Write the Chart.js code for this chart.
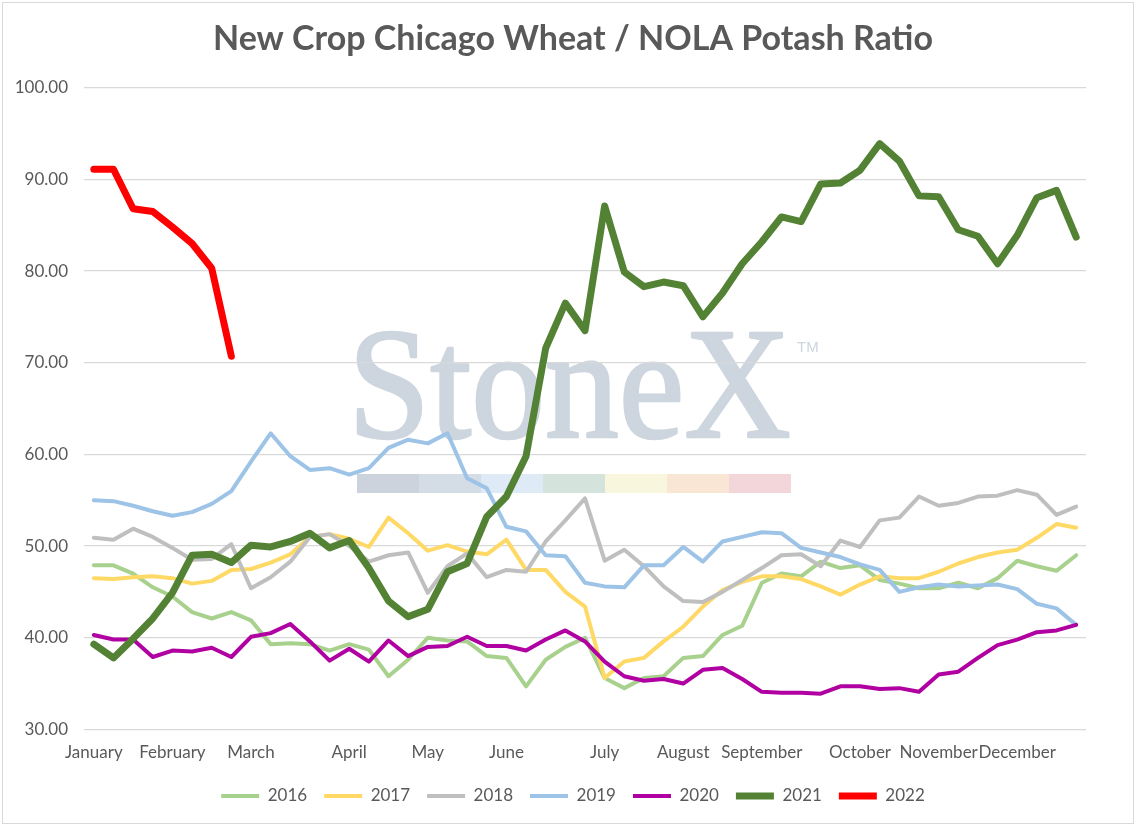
<!DOCTYPE html>
<html><head><meta charset="utf-8">
<script src="https://cdn.jsdelivr.net/npm/chart.js@4.4.1/dist/chart.umd.min.js"></script>
<style>html,body{margin:0;padding:0;background:#fff;overflow:hidden}canvas{display:block}</style>
</head><body>
<canvas id="c" width="1138" height="826"></canvas>
<script>
// ---- data ----
const titleText = 'New Crop Chicago Wheat / NOLA Potash Ratio';
const monthNames = ['January','February','March','April','May','June','July','August','September','October','November','December'];
const monthStartWeek = [0,4,8,13,17,21,26,30,34,39,43,47];
const weekCount = 51;
const seriesNames = ['2016','2017','2018','2019','2020','2021','2022'];
const y2016 = [47.9,47.9,47.0,45.5,44.5,42.8,42.1,42.8,41.9,39.3,39.4,39.3,38.6,39.3,38.7,35.8,37.6,40.0,39.7,39.6,38.0,37.8,34.7,37.6,39.0,40.0,35.6,34.5,35.6,35.8,37.8,38.0,40.3,41.3,46.0,47.0,46.7,48.3,47.6,47.9,46.3,45.9,45.4,45.4,46.0,45.4,46.5,48.4,47.8,47.3,49.0];
const y2017 = [46.5,46.4,46.6,46.7,46.5,45.9,46.2,47.4,47.5,48.2,49.1,51.0,51.3,50.8,49.9,53.1,51.4,49.5,50.1,49.4,49.1,50.7,47.4,47.4,45.0,43.4,35.6,37.4,37.8,39.6,41.2,43.4,45.2,46.1,46.7,46.7,46.4,45.6,44.7,45.8,46.7,46.5,46.5,47.2,48.1,48.8,49.3,49.6,50.9,52.4,52.0];
const y2018 = [50.9,50.7,51.9,51.0,49.8,48.5,48.6,50.2,45.4,46.6,48.3,51.0,51.3,50.0,48.3,49.0,49.3,44.9,47.8,49.2,46.6,47.4,47.2,50.5,52.8,55.2,48.4,49.6,47.8,45.6,44.0,43.9,45.0,46.3,47.6,49.0,49.1,47.8,50.6,49.9,52.8,53.1,55.4,54.4,54.7,55.4,55.5,56.1,55.6,53.4,54.3];
const y2019 = [55.0,54.9,54.4,53.8,53.3,53.7,54.6,56.0,59.2,62.3,59.8,58.3,58.5,57.8,58.5,60.7,61.6,61.2,62.3,57.4,56.3,52.1,51.6,49.0,48.9,46.0,45.6,45.5,47.9,47.9,49.9,48.3,50.5,51.0,51.5,51.4,49.8,49.3,48.8,48.0,47.4,45.0,45.5,45.8,45.6,45.7,45.8,45.3,43.7,43.2,41.4];
const y2020 = [40.3,39.8,39.8,37.9,38.6,38.5,38.9,37.9,40.1,40.5,41.5,39.6,37.5,38.8,37.4,39.7,38.0,39.0,39.1,40.1,39.1,39.1,38.6,39.8,40.8,39.6,37.4,35.8,35.3,35.5,35.0,36.5,36.7,35.5,34.1,34.0,34.0,33.9,34.7,34.7,34.4,34.5,34.1,36.0,36.3,37.8,39.2,39.8,40.6,40.8,41.4];
const y2021 = [39.3,37.8,39.9,42.1,44.9,49.0,49.1,48.2,50.1,49.9,50.5,51.4,49.8,50.6,47.6,44.0,42.3,43.1,47.2,48.1,53.2,55.4,59.8,71.6,76.5,73.5,87.1,79.9,78.3,78.8,78.4,75.0,77.6,80.8,83.2,85.9,85.4,89.5,89.6,91.0,93.9,92.0,88.2,88.1,84.5,83.8,80.8,83.9,88.0,88.8,83.7];
const y2022 = [91.1,91.1,86.8,86.5,84.8,83.0,80.3,70.7];
const yMin = 30, yMax = 100, yStep = 10;

// ---- build ----
const weekLabels = Array.from({length: weekCount}, () => '');
monthStartWeek.forEach((w, k) => { weekLabels[w] = monthNames[k]; });

const seriesValues = [y2016, y2017, y2018, y2019, y2020, y2021, y2022];
const seriesColors = ['#a9d18e','#ffd966','#bfbfbf','#9dc3e6','#b000a2','#548235','#ff0000'];
const seriesWidths = [4, 4, 4, 4, 4, 7, 7];

const FONT = 'Lato';
const GREY = '#595959';

// title size to match the reference width
const mc = document.createElement('canvas').getContext('2d');
mc.font = 'bold 100px ' + FONT;
const titleSize = Math.round(100 * 721 / mc.measureText(titleText).width * 10) / 10;
const titleLH = 1.2;
const titlePadTop = 39 - titleSize * titleLH / 2;
const titlePadBottom = 87.7 - titlePadTop - titleSize * titleLH;

const datasets = seriesNames.map((name, i) => ({
  label: name,
  data: seriesValues[i],
  borderColor: seriesColors[i],
  backgroundColor: seriesColors[i],
  borderWidth: seriesWidths[i],
  borderCapStyle: 'round',
  borderJoinStyle: 'round',
  pointRadius: 0,
  pointHoverRadius: 0,
  pointStyle: 'line',
  tension: 0,
  fill: false,
  order: seriesNames.length - i
}));

const decorPlugin = {
  id: 'decor',
  beforeDraw(chart) {
    const ctx = chart.ctx;
    const dpr = chart.currentDevicePixelRatio;
    ctx.save();
    // watermark text
    const wm = 'rgb(205,213,222)';
    ctx.fillStyle = wm;
    ctx.strokeStyle = wm;
    ctx.font = '158px "Liberation Serif"';
    ctx.textBaseline = 'alphabetic';
    const w = ctx.measureText('StoneX').width;
    ctx.translate(348, 437);
    ctx.scale(443 / w, 1);
    ctx.lineWidth = 2.6;
    ctx.lineJoin = 'round';
    ctx.fillText('StoneX', 0, 0);
    ctx.strokeText('StoneX', 0, 0);
    ctx.setTransform(dpr, 0, 0, dpr, 0, 0);
    ctx.font = '15px "Liberation Sans"';
    ctx.fillText('TM', 797, 352);
    // colour bar
    const barColors = ['#ccd3dd','#d4dce6','#deeaf5','#d4e4dc','#f8f6dc','#f9e6d4','#f3d6d9'];
    barColors.forEach((c, k) => {
      ctx.fillStyle = c;
      ctx.fillRect(357 + k * 62, 474, 62, 19);
    });
    ctx.restore();
  },
  afterDraw(chart) {
    const ctx = chart.ctx;
    ctx.save();
    ctx.strokeStyle = '#d9d9d9';
    ctx.lineWidth = 1;
    ctx.strokeRect(2.5, 2.5, 1131, 821);
    ctx.restore();
  }
};

Chart.defaults.font.family = FONT;
Chart.defaults.color = GREY;

new Chart(document.getElementById('c'), {
  type: 'line',
  data: { labels: weekLabels, datasets },
  options: {
    responsive: false,
    animation: false,
    events: [],
    layout: { padding: { left: 8, right: 0, top: 0, bottom: 11.5 } },
    plugins: {
      title: {
        display: true,
        text: titleText,
        color: GREY,
        font: { size: titleSize, weight: 'bold', family: FONT, lineHeight: titleLH },
        padding: { top: titlePadTop, bottom: titlePadBottom }
      },
      legend: {
        position: 'bottom',
        labels: {
          usePointStyle: true,
          pointStyle: 'line',
          pointStyleWidth: 38,
          padding: 17,
          color: GREY,
          font: { size: 17, family: FONT },
          sort: (a, b) => a.datasetIndex - b.datasetIndex
        }
      },
      tooltip: { enabled: false }
    },
    scales: {
      x: {
        type: 'category',
        offset: true,
        grid: { display: false, drawTicks: false },
        border: { display: false },
        ticks: { autoSkip: false, maxRotation: 0, minRotation: 0, padding: 13, color: GREY, font: { size: 17 } },
        afterFit(s) { s.height = 41.1; }
      },
      y: {
        type: 'linear',
        position: 'left',
        min: yMin, max: yMax,
        grid: { color: '#d9d9d9', lineWidth: 1.3, drawTicks: false },
        border: { display: false },
        ticks: { stepSize: yStep, padding: 16, color: GREY, font: { size: 17 }, callback: v => v.toFixed(2) },
        afterFit(s) { s.width = 76; }
      },
      yR: {
        type: 'linear',
        position: 'right',
        display: true,
        grid: { display: false, drawTicks: false },
        border: { display: false },
        ticks: { display: false },
        afterFit(s) { s.width = 52; }
      }
    }
  },
  plugins: [decorPlugin]
});
</script>
</body></html>
